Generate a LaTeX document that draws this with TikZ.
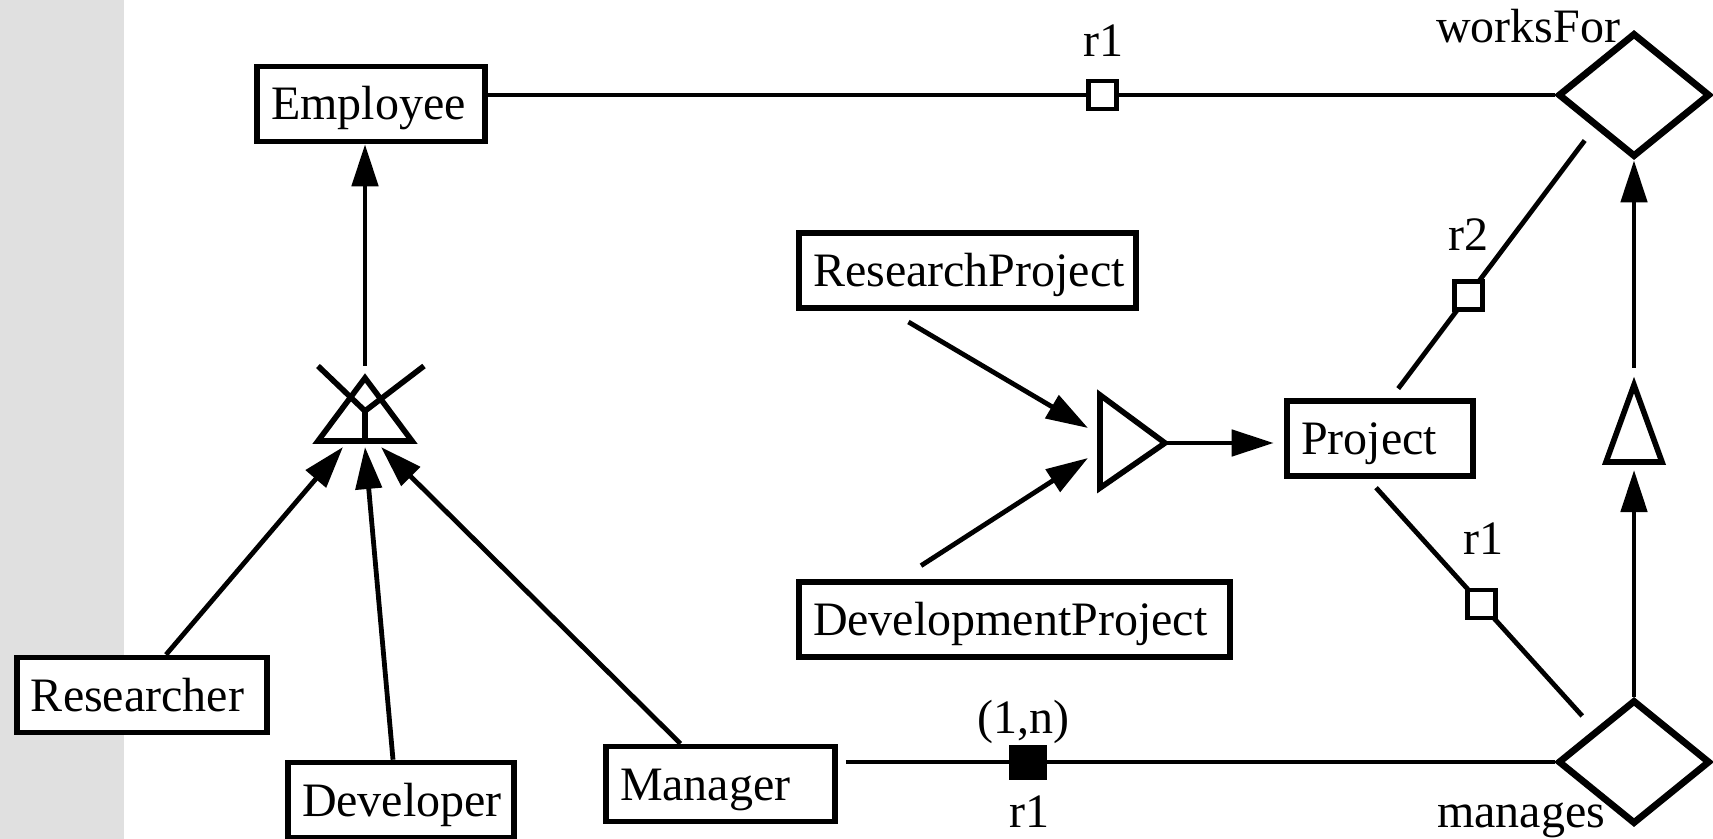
\documentclass[tikz,border=0pt]{standalone}
\usepackage{fontspec}
\setmainfont{Liberation Serif}
\usetikzlibrary{shapes.geometric,arrows.meta}
\definecolor{bandgray}{RGB}{224,224,224}
\tikzset{every picture/.style={line width=2.4pt}}
\tikzset{
  entity/.style={draw, fill=white, line width=2.8pt, minimum height=37.5pt, inner xsep=7pt, inner ysep=0pt,
    text height=18pt, text depth=2pt, align=left, font=\fontsize{24}{28}\selectfont},
  relship/.style={draw, diamond, line width=3.4pt, minimum width=76pt, minimum height=62pt, inner sep=0pt},
  rolebox/.style={draw, fill=white, line width=2.4pt, minimum size=14pt, inner sep=0pt},
  rolefull/.style={fill=black, minimum width=19pt, minimum height=17.5pt, inner sep=0pt},
  tag/.style={inner sep=0pt, anchor=base, font=\fontsize{24}{28}\selectfont},
  isa/.style={-{Triangle[length=21pt,width=13pt]}},
}
\begin{document}
\begin{tikzpicture}[x=0.5pt,y=0.5pt,yscale=-1,xscale=1]
\useasboundingbox (0,0) rectangle (1713,839);
%Shape: Rectangle (side band)
\fill[bandgray] (0,0) rectangle (124,839);

% Entities
\node[entity, text width=100pt] (Employee) at (371,104) {Employee};
\node[entity, text width=154.5pt] (ResearchProject) at (967.5,270.5) {ResearchProject};
\node[entity, text width=201.5pt] (DevelopmentProject) at (1014.5,619.5) {DevelopmentProject};
\node[entity, text width=79pt] (Project) at (1380,438.5) {Project};
\node[entity, text width=111pt] (Researcher) at (142,695) {Researcher};
\node[entity, text width=99pt] (Developer) at (401,800) {Developer};
\node[entity, text width=100.5pt] (Manager) at (720.5,784) {Manager};

% Relationships
\node[relship] (worksFor) at (1634,95) {};
\node[relship] (manages) at (1634,762) {};

% Generalisation marks
\coordinate (isaOne) at (365,441);
\coordinate (isaOneTop) at (365,366);
\coordinate (isaOneL) at (343,447);
\coordinate (isaOneM) at (365,447);
\coordinate (isaOneR) at (381,447);
\draw[line width=2.8pt, line join=miter] (isaOne) ++(-47,0) -- ++(47,-63) -- ++(47,63) -- cycle;
\draw[line width=2.8pt] (318,366) -- (365,411) -- (424,366);
\draw[line width=2.8pt] (365,411) -- (isaOne);

\coordinate (unionTip) at (1165,443);
\coordinate (unionInA) at (1088,428);
\coordinate (unionInB) at (1088,458);
\draw[line width=2.8pt, line join=miter] (unionTip) -- ++(-65,-48) -- ++(0,93) -- cycle;

\coordinate (isaTwo) at (1634,462);
\coordinate (isaTwoTop) at (1634,368);
\coordinate (isaTwoIn) at (1634,470);
\draw[line width=2.8pt, line join=miter] (isaTwo) ++(-28,0) -- ++(28,-77) -- ++(28,77) -- cycle;

% Connectors
\draw[isa] (isaOneTop) -- (isaOneTop |- Employee.south);
\draw[isa] ([xshift=12pt]Researcher.north) -- (isaOneL);
\draw[isa] ([xshift=-4pt]Developer.north) -- (isaOneM);
\draw[isa] ([xshift=-20pt]Manager.north) -- (isaOneR);

\draw[isa, shorten <=11pt] ([xshift=-39pt]ResearchProject.south) -- (unionInA);
\draw[isa, shorten <=12.5pt] ([xshift=-57.25pt]DevelopmentProject.north) -- (unionInB);
\draw[isa, shorten >=5.25pt] (unionTip) -- (unionTip -| Project.west);

\draw[isa] (manages.north) -- (isaTwoIn);
\draw[isa] (isaTwoTop) -- (worksFor.south);

\draw (worksFor.west -| Employee.east) -- node[rolebox, pos=0.576] (roleA) {} (worksFor.west);
\draw[shorten <=6pt, shorten >=8pt] ([xshift=5.5pt]Project.north) -- node[rolebox, pos=0.38] (roleB) {} (worksFor.south west);
\draw[shorten <=6pt, shorten >=9pt] ([xshift=-6pt]Project.south) -- node[rolebox, pos=0.5] (roleC) {} (manages.north west);
\draw[shorten <=4pt] (manages.west -| Manager.east) -- node[rolefull, pos=0.266] (roleD) {} (manages.west);

% Text Node
\node[tag] (worksForText) at (1528,43) {worksFor};
\node[tag] (managesText) at (1521,827) {manages};
\node[tag] (roleAText) at (1103,57) {r1};
\node[tag] (roleBText) at (1468,251) {r2};
\node[tag] (roleCText) at (1483,554) {r1};
\node[tag] (roleDText) at (1023,733) {(1,n)};
\node[tag] (roleDTextB) at (1029,827) {r1};
\end{tikzpicture}
\end{document}
